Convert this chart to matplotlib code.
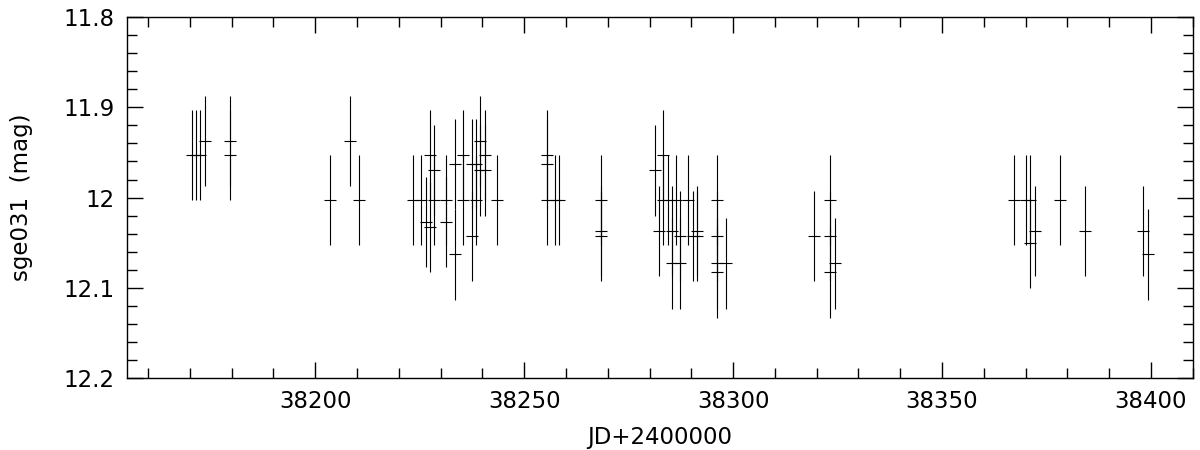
import matplotlib
matplotlib.use('Agg')
import matplotlib.pyplot as plt
import matplotlib.ticker as ticker

jd = [38170.4, 38171.4, 38172.4, 38173.5, 38179.5, 38179.5, 38203.5, 38208.4, 38210.4,
      38223.4, 38225.4, 38226.5, 38227.4, 38227.4, 38228.4, 38228.4, 38231.4, 38231.4,
      38233.4, 38233.4, 38235.4, 38235.4, 38237.5, 38237.5, 38238.4, 38238.4, 38239.5,
      38239.5, 38240.6, 38240.6, 38243.5,
      38255.4, 38255.4, 38255.4, 38257.4, 38258.4, 38268.4, 38268.4, 38268.4,
      38281.3, 38282.3, 38283.3, 38283.3, 38284.4, 38285.3, 38285.3, 38286.4, 38287.3,
      38287.3, 38289.3, 38290.4, 38291.3, 38291.3, 38296.2, 38296.2, 38296.2, 38296.2,
      38298.4, 38319.4, 38323.3, 38323.3, 38323.3, 38324.3,
      38367.2, 38370.2, 38371.1, 38371.1, 38372.2, 38378.2, 38384.2, 38398.2, 38399.2]
mag = [11.953, 11.953, 11.953, 11.937, 11.937, 11.953, 12.003, 11.937, 12.003,
       12.003, 12.003, 12.027, 11.953, 12.033, 11.970, 12.003, 12.027, 12.003,
       11.963, 12.063, 11.953, 12.003, 11.963, 12.043, 11.963, 12.003, 11.937,
       11.970, 11.953, 11.970, 12.003,
       11.953, 11.963, 12.003, 12.003, 12.003, 12.003, 12.037, 12.043,
       11.970, 12.037, 11.953, 12.003, 12.003, 12.037, 12.073, 12.003, 12.043,
       12.073, 12.003, 12.043, 12.037, 12.043, 12.003, 12.043, 12.073, 12.083,
       12.073, 12.043, 12.003, 12.043, 12.083, 12.073,
       12.003, 12.003, 12.003, 12.050, 12.037, 12.003, 12.037, 12.037, 12.063]
err = [0.05] * len(mag)

fig = plt.figure(figsize=(12, 4.5), dpi=100)
ax = fig.add_axes([0.106, 0.16, 0.888, 0.802])

# Barres d'erreur sans chapeau, marqueur horizontal au centre
ax.errorbar(jd, mag, yerr=err, fmt='_', color='k', ms=8.6, mew=0.8,
            elinewidth=0.8, capsize=0)

ax.set_xlim(38155, 38410)
ax.set_ylim(12.2, 11.8)

ax.xaxis.set_major_locator(ticker.MultipleLocator(50))
ax.xaxis.set_minor_locator(ticker.MultipleLocator(10))
ax.yaxis.set_major_locator(ticker.MultipleLocator(0.1))
ax.yaxis.set_minor_locator(ticker.MultipleLocator(0.02))
ax.yaxis.set_major_formatter(ticker.FuncFormatter(lambda v, _: f"{v:g}"))
ax.xaxis.set_major_formatter(ticker.FuncFormatter(lambda v, _: f"{v:.0f}"))

ax.tick_params(which='both', direction='in', top=True, right=True,
               labelsize=16.5, width=1.0, pad=9)
ax.tick_params(which='major', length=11.5)
ax.tick_params(which='minor', length=7.5)
for s in ax.spines.values():
    s.set_linewidth(1.0)

ax.set_xlabel('JD+2400000', fontsize=16.5, labelpad=9)
ax.set_ylabel('sge031  (mag)', fontsize=16.5, labelpad=22)

plt.savefig('out.png', dpi=100)
